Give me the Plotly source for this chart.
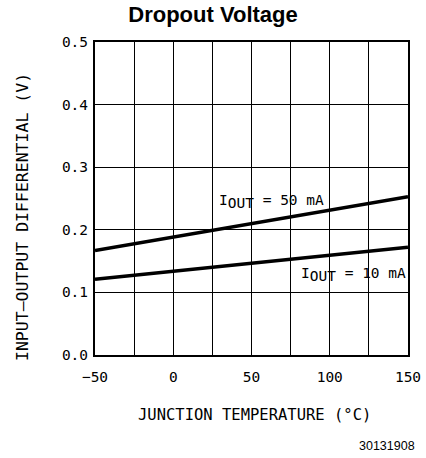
import plotly.graph_objects as go

temp = [-50, 150]
v_50ma = [0.167, 0.253]
v_10ma = [0.121, 0.172]
x_ticks = [-50, 0, 50, 100, 150]
x_tick_text = ["\u221250", "0", "50", "100", "150"]
y_ticks = [0.0, 0.1, 0.2, 0.3, 0.4, 0.5]
y_tick_text = ["0.0", "0.1", "0.2", "0.3", "0.4", "0.5"]

W, H = 426, 458
L, R, T, B = 95, 408, 42, 355
eng = "DejaVu Sans Mono, monospace"
sans = "Liberation Sans, Arial, sans-serif"


def px_x(p):
    return (p - L) / (R - L)


def px_y(p):
    return (B - p) / (B - T)


fig = go.Figure()
fig.add_trace(go.Scatter(x=temp, y=v_50ma, mode="lines",
                         line=dict(color="black", width=3.5), showlegend=False))
fig.add_trace(go.Scatter(x=temp, y=v_10ma, mode="lines",
                         line=dict(color="black", width=3.5), showlegend=False))

fig.update_layout(
    width=W, height=H,
    margin=dict(l=L, r=W - R, t=T, b=H - B, autoexpand=False),
    paper_bgcolor="white", plot_bgcolor="white",
    title=dict(text="<b>Dropout Voltage</b>", x=0.5, xanchor="center", xref="container",
               y=1 - 14 / H, yanchor="middle",
               font=dict(family=sans, size=22, color="black")),
    font=dict(family=eng, color="black", size=14.5),
)
fig.update_xaxes(range=[-50, 150], tickvals=x_ticks, ticktext=x_tick_text,
                 showgrid=True, gridcolor="black", gridwidth=1.3,
                 minor=dict(dtick=25, tick0=-50, showgrid=True, gridcolor="black", gridwidth=1.3),
                 showline=True, linecolor="black", linewidth=2, mirror=True,
                 zeroline=False, ticks="", ticklen=0, automargin=False,
                 ticklabelstandoff=8,
                 tickfont=dict(family=eng, size=14.5))
fig.update_yaxes(range=[0, 0.5], tickvals=y_ticks, ticktext=y_tick_text,
                 showgrid=True, gridcolor="black", gridwidth=1.3,
                 showline=True, linecolor="black", linewidth=2, mirror=True,
                 zeroline=False, ticks="", ticklen=0, automargin=False,
                 ticklabelstandoff=2,
                 tickfont=dict(family=eng, size=14.5))

sub = "<sub><span style='font-size:14.5px'>OUT</span></sub>"
fig.add_annotation(x=28.6, y=0.245, xref="x", yref="y", xanchor="left", yanchor="middle",
                   text="I" + sub + " = 50 mA", showarrow=False, borderpad=0,
                   font=dict(family=eng, size=14.5, color="black"))
fig.add_annotation(x=81, y=0.128, xref="x", yref="y", xanchor="left", yanchor="middle",
                   text="I" + sub + " = 10 mA", showarrow=False, borderpad=0,
                   font=dict(family=eng, size=14.5, color="black"))
# axis titles
fig.add_annotation(x=px_x(254), y=px_y(415), xref="paper", yref="paper",
                   xanchor="center", yanchor="middle", showarrow=False,
                   text="JUNCTION TEMPERATURE (°C)",
                   font=dict(family=eng, size=15.5, color="black"))
fig.add_annotation(x=px_x(22), y=px_y(217), xref="paper", yref="paper",
                   xanchor="center", yanchor="middle", showarrow=False, textangle=-90,
                   text="INPUT\u2013OUTPUT DIFFERENTIAL (V)",
                   font=dict(family=eng, size=16.5, color="black"))
fig.add_annotation(x=px_x(417), y=px_y(446), xref="paper", yref="paper",
                   xanchor="right", yanchor="middle", showarrow=False,
                   text="30131908",
                   font=dict(family=sans, size=12.5, color="black"))

fig.write_html("out.html")
